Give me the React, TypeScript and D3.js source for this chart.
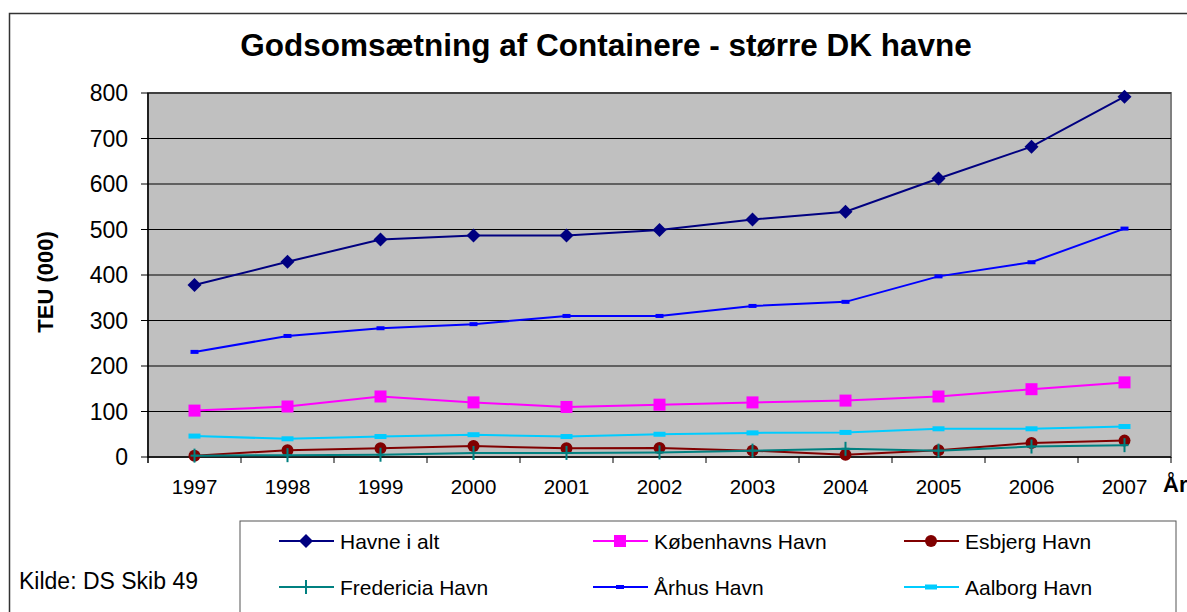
import React from 'react'
import * as d3 from 'd3'

const years = ['1997', '1998', '1999', '2000', '2001', '2002', '2003', '2004', '2005', '2006', '2007']
const havneIAlt = [378, 429, 478, 487, 487, 499, 522, 539, 612, 682, 792]
const koebenhavn = [102, 111, 133, 120, 110, 115, 120, 124, 133, 149, 164]
const esbjerg = [3, 15, 19, 24, 19, 20, 14, 5, 15, 31, 36]
const fredericia = [3, 4, 5, 9, 9, 10, 14, 18, 14, 23, 26]
const aarhus = [231, 266, 283, 292, 310, 310, 332, 341, 397, 428, 502]
const aalborg = [46, 40, 45, 49, 45, 50, 53, 54, 62, 62, 67]
const yTicks = [0, 100, 200, 300, 400, 500, 600, 700, 800]

type Marker = 'diamond' | 'square' | 'circle' | 'plus' | 'dash' | 'bar'

const series: { name: string; values: number[]; color: string; marker: Marker }[] = [
  { name: 'Havne i alt', values: havneIAlt, color: '#000080', marker: 'diamond' },
  { name: 'Københavns Havn', values: koebenhavn, color: '#FF00FF', marker: 'square' },
  { name: 'Esbjerg Havn', values: esbjerg, color: '#800000', marker: 'circle' },
  { name: 'Fredericia Havn', values: fredericia, color: '#008080', marker: 'plus' },
  { name: 'Århus Havn', values: aarhus, color: '#0000FF', marker: 'dash' },
  { name: 'Aalborg Havn', values: aalborg, color: '#00CCFF', marker: 'bar' },
]

// plot area
const left = 148
const right = 1171
const top = 93
const bottom = 457

const font = 'Arial, "Liberation Sans", sans-serif'

const drawMarker = (m: Marker, x: number, y: number, color: string, key: string | number) => {
  switch (m) {
    case 'diamond':
      return <path key={key} d={`M${x},${y - 7}L${x + 7},${y}L${x},${y + 7}L${x - 7},${y}Z`} fill={color} />
    case 'square':
      return <rect key={key} x={x - 6} y={y - 6} width={12} height={12} fill={color} />
    case 'circle':
      return <circle key={key} cx={x} cy={y} r={6} fill={color} />
    case 'plus':
      return (
        <g key={key} stroke={color} strokeWidth={2}>
          <line x1={x} y1={y - 7} x2={x} y2={y + 7} />
          <line x1={x - 4} y1={y} x2={x + 4} y2={y} />
        </g>
      )
    case 'dash':
      return <rect key={key} x={x - 4} y={y - 2} width={8} height={4} fill={color} />
    case 'bar':
      return <rect key={key} x={x - 6} y={y - 2.5} width={12} height={5} fill={color} />
  }
}

const App = () => {
  const xScale = d3.scaleBand().domain(years).range([left, right]).padding(0)
  const bw = xScale.bandwidth()
  const yScale = d3.scaleLinear().domain([0, 800]).range([bottom, top])
  const cx = (y: string) => (xScale(y) as number) + bw / 2

  const line = d3
    .line<number>()
    .x((_, i) => cx(years[i]))
    .y(d => yScale(d))

  const legendCols = [279, 593, 904]
  const legendRows = [541, 587]

  return (
    <svg width={1187} height={612} style={{ position: 'absolute', left: 0, top: 0 }} fontFamily={font}>
      <rect x={0} y={0} width={1187} height={612} fill="#fff" />
      <rect x={9.5} y={13.5} width={1190} height={610} fill="#fff" stroke="#333" strokeWidth={1.5} />

      <text x={606} y={56} textAnchor="middle" fontSize={31.5} fontWeight="bold">
        Godsomsætning af Containere - større DK havne
      </text>

      {/* plot */}
      <rect x={left} y={top} width={right - left} height={bottom - top} fill="#C0C0C0" stroke="#808080" strokeWidth={2} />
      {yTicks.map(t => (
        <g key={t}>
          {t > 0 && <line x1={left} x2={right} y1={yScale(t)} y2={yScale(t)} stroke="#000" strokeWidth={1} />}
          <line x1={left - 7} x2={left} y1={yScale(t)} y2={yScale(t)} stroke="#000" />
          <text x={128} y={yScale(t)} dy="0.36em" textAnchor="end" fontSize={23}>
            {t}
          </text>
        </g>
      ))}
      <line x1={left} x2={left} y1={top} y2={bottom + 6} stroke="#000" strokeWidth={1.5} />
      <line x1={left} x2={right} y1={bottom} y2={bottom} stroke="#000" strokeWidth={1.5} />
      {years.map(y => (
        <g key={y}>
          <line x1={(xScale(y) as number) + bw} x2={(xScale(y) as number) + bw} y1={bottom} y2={bottom + 6} stroke="#000" />
          <text x={cx(y)} y={494} textAnchor="middle" fontSize={20.5}>
            {y}
          </text>
        </g>
      ))}
      <text x={1163} y={492} fontSize={22} fontWeight="bold">
        År
      </text>
      <text transform={`translate(53,${(top + bottom) / 2 + 7}) rotate(-90)`} textAnchor="middle" fontSize={22} fontWeight="bold">
        TEU (000)
      </text>

      {series.map(s => (
        <g key={s.name}>
          <path d={line(s.values) || ''} fill="none" stroke={s.color} strokeWidth={2} />
          {s.values.map((v, i) => drawMarker(s.marker, cx(years[i]), yScale(v), s.color, i))}
        </g>
      ))}

      {/* legend */}
      <rect x={240} y={521} width={936} height={100} fill="#fff" stroke="#555" strokeWidth={1} />
      {series.map((s, i) => {
        const lx = legendCols[i % 3]
        const ly = legendRows[Math.floor(i / 3)]
        return (
          <g key={s.name}>
            <line x1={lx} x2={lx + 55} y1={ly} y2={ly} stroke={s.color} strokeWidth={2} />
            {drawMarker(s.marker, lx + 27, ly, s.color, 'm')}
            <text x={lx + 61} y={ly} dy="0.36em" fontSize={21}>
              {s.name}
            </text>
          </g>
        )
      })}

      <text x={19} y={589} fontSize={23}>
        Kilde: DS Skib 49
      </text>
    </svg>
  )
}

export default App
